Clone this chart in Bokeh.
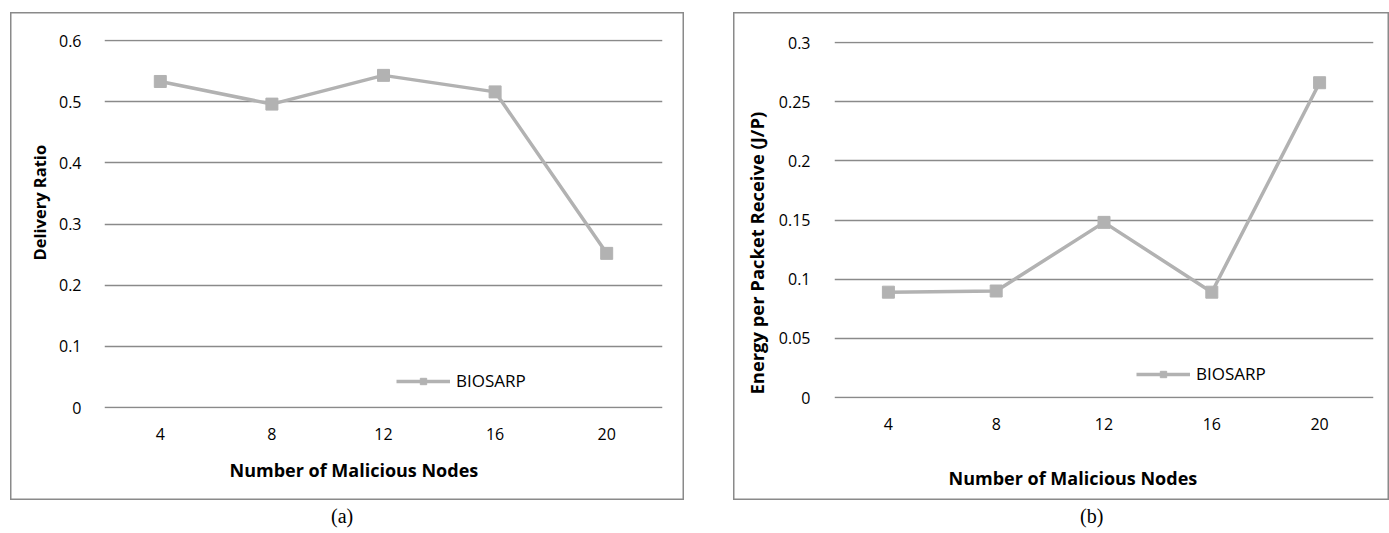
from bokeh.plotting import figure
from bokeh.models import (Range1d, FactorRange, FixedTicker, Legend, LegendItem,
                          Title, Div, Spacer, ColumnDataSource)
from bokeh.layouts import row, column
from bokeh.embed import file_html
from bokeh.resources import INLINE

# ---------------- data ----------------
nodes = ["4", "8", "12", "16", "20"]
delivery_ratio = [0.533, 0.496, 0.543, 0.516, 0.252]
energy_per_packet = [0.089, 0.090, 0.148, 0.089, 0.266]

yticks_a = [0, 0.1, 0.2, 0.3, 0.4, 0.5, 0.6]
ylabels_a = ["0", "0.1", "0.2", "0.3", "0.4", "0.5", "0.6"]
yticks_b = [0, 0.05, 0.1, 0.15, 0.2, 0.25, 0.3]
ylabels_b = ["0", "0.05", "0.1", "0.15", "0.2", "0.25", "0.3"]

series_name = "BIOSARP"
x_title = "Number of Malicious Nodes"
y_title_a = "Delivery Ratio"
y_title_b = "Energy per Packet Receive (J/P)"
captions = ["(a)", "(b)"]

# ---------------- styles ----------------
FONT = "Open Sans"
LINE_COLOR = "#b2b2b2"
GRID_COLOR = "#8a8a8a"
BOX_STYLE = {"background-color": "white",
             "box-shadow": "inset 0 0 0 1.5px #8a8a8a",
             "outline": "1.5px solid #8a8a8a", "outline-offset": "-1.5px"}


def make_panel(values, yticks, ylabels, ytitle, width, height, borders,
               legend_loc, ytitle_size, ytitle_offset, ytitle_push,
               xtitle_offset, xtitle_push, ylabel_standoff):
    left, right, top, bottom = borders
    # extend the range by one pixel on each side so the edge gridlines show
    frame_h = height - top - bottom
    unit = (yticks[-1] - yticks[0]) / (frame_h - 2)
    p = figure(width=width, height=height, output_backend="svg",
               toolbar_location=None,
               x_range=FactorRange(factors=nodes),
               y_range=Range1d(yticks[0] - unit, yticks[-1] + unit),
               min_border_left=left, min_border_right=right,
               min_border_top=top, min_border_bottom=bottom,
               background_fill_alpha=0, border_fill_alpha=0)
    p.styles = BOX_STYLE
    p.outline_line_color = None

    src = ColumnDataSource(dict(x=nodes, y=values))
    ln = p.line("x", "y", source=src, line_color=LINE_COLOR, line_width=3.5)
    sc = p.scatter("x", "y", source=src, marker="square", size=12,
                   fill_color=LINE_COLOR, line_color=LINE_COLOR)

    # axes
    for ax in (p.xaxis, p.yaxis):
        ax.axis_line_color = None
        ax.major_tick_line_color = None
        ax.minor_tick_line_color = None
        ax.major_label_text_font = FONT
        ax.major_label_text_font_size = "16px"
        ax.major_label_text_color = "#000000"
    p.xaxis.major_label_standoff = 13
    p.yaxis.major_label_standoff = ylabel_standoff
    p.yaxis.ticker = FixedTicker(ticks=yticks)
    p.yaxis.major_label_overrides = {t: l for t, l in zip(yticks, ylabels)}

    # blank axis labels used only as spacing between tick labels and titles
    if xtitle_push:
        p.xaxis.axis_label = " "
        p.xaxis.axis_label_standoff = xtitle_push
        p.xaxis.axis_label_text_font_size = "1px"
    if ytitle_push:
        p.yaxis.axis_label = " "
        p.yaxis.axis_label_standoff = ytitle_push
        p.yaxis.axis_label_text_font_size = "1px"

    p.xgrid.grid_line_color = None
    p.ygrid.ticker = FixedTicker(ticks=yticks)
    p.ygrid.grid_line_color = GRID_COLOR
    p.ygrid.grid_line_width = 1.4

    # axis titles
    p.add_layout(Title(text=x_title, align="left", offset=xtitle_offset,
                       standoff=4, text_font=FONT,
                       text_font_size="18px", text_font_style="bold",
                       text_color="#000000"), "below")
    p.add_layout(Title(text=ytitle, align="left", offset=ytitle_offset,
                       standoff=0, text_font=FONT,
                       text_font_size=ytitle_size, text_font_style="bold",
                       text_color="#000000"), "left")

    # legend
    legend = Legend(items=[LegendItem(label=series_name, renderers=[ln, sc])],
                    location=legend_loc, orientation="horizontal",
                    border_line_color=None, background_fill_alpha=0,
                    padding=0, margin=0, spacing=0,
                    glyph_width=54, glyph_height=16, label_standoff=6,
                    label_text_font=FONT, label_text_font_size="17px",
                    label_text_color="#000000")
    p.add_layout(legend)
    return p


fig_a = make_panel(delivery_ratio, yticks_a, ylabels_a, y_title_a,
                   width=674, height=488, borders=(94, 22, 27, 92),
                   legend_loc=(292, 16), ytitle_size="16.5px",
                   ytitle_offset=148, ytitle_push=1,
                   xtitle_offset=125, xtitle_push=7,
                   ylabel_standoff=17)

fig_b = make_panel(energy_per_packet, yticks_b, ylabels_b, y_title_b,
                   width=656, height=488, borders=(101, 16, 29, 102),
                   legend_loc=(302, 13), ytitle_size="18.4px",
                   ytitle_offset=4, ytitle_push=3,
                   xtitle_offset=114, xtitle_push=25,
                   ylabel_standoff=18)


def caption(text, pad_left, width):
    html = ('<div style="padding-top:6px;padding-left:%dpx;'
            'font-family:\'Liberation Serif\',serif;font-size:20px;'
            'line-height:20px;color:#000;white-space:nowrap">%s</div>'
            % (pad_left, text))
    return Div(text=html, width=width, height=25, margin=0)


col_a = column(fig_a, caption(captions[0], 321, 674), spacing=0)
col_b = column(fig_b, caption(captions[1], 347, 656), spacing=0)

layout = column(Spacer(height=12),
                row(Spacer(width=10), col_a, Spacer(width=49), col_b, spacing=0),
                spacing=0)

open("out.html", "w").write(file_html(layout, INLINE))
